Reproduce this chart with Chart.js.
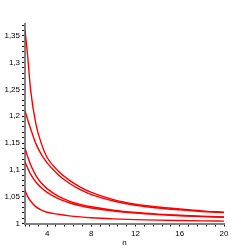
<!DOCTYPE html>
<html>
<head>
<meta charset="utf-8">
<script src="https://cdn.jsdelivr.net/npm/chart.js@4"></script>
<style>
html,body{margin:0;padding:0;background:#fff;}
#wrap{width:250px;height:250px;position:relative;}
</style>
</head>
<body>
<div id="wrap"><canvas id="c" width="250" height="250"></canvas></div>
<script>
const nValues = [2, 2.25, 2.5, 3, 3.5, 4, 5, 6, 7, 8, 10, 12, 14, 16, 18, 20];
const curveA  = [1.36, 1.31, 1.25, 1.184, 1.148, 1.123, 1.098, 1.081, 1.068, 1.058, 1.0445, 1.036, 1.0307, 1.027, 1.0236, 1.021];
const curveB  = [1.21, 1.193, 1.177, 1.148, 1.128, 1.113, 1.091, 1.075, 1.063, 1.054, 1.042, 1.034, 1.029, 1.0255, 1.0225, 1.0202];
const curveC1 = [1.14, 1.124, 1.11, 1.089, 1.075, 1.065, 1.051, 1.0418, 1.0357, 1.0312, 1.0247, 1.0204, 1.0175, 1.0153, 1.0136, 1.0122];
const curveC2 = [1.115, 1.103, 1.092, 1.077, 1.066, 1.058, 1.0465, 1.0387, 1.0332, 1.029, 1.0232, 1.0193, 1.0166, 1.0145, 1.0129, 1.0116];
const curveD  = [1.062, 1.05, 1.042, 1.031, 1.025, 1.021, 1.0172, 1.0143, 1.0123, 1.0108, 1.0087, 1.0072, 1.0062, 1.0055, 1.0049, 1.0044];

const xTicks = [2, 2.4, 3.2, 4, 4.8, 5.6, 6.4, 7.2, 8, 8.8, 9.6, 10.4, 11.2, 12, 12.8, 13.6, 14.4, 15.2, 16, 16.8, 17.6, 18.4, 19.2, 20];
const xLabels = [4, 8, 12, 16, 20];
const yTicks = [];
for (let i = 0; i <= 37; i++) yTicks.push(+(1 + i * 0.01).toFixed(2));
const yLabels = [1, 1.05, 1.1, 1.15, 1.2, 1.25, 1.3, 1.35];

const series = [curveA, curveB, curveC1, curveC2, curveD];
const datasets = series.map(s => ({
  data: nValues.map((n, i) => ({x: n, y: s[i]})),
  borderColor: '#ff0000',
  borderWidth: 1.4,
  pointRadius: 0,
  fill: false,
  cubicInterpolationMode: 'monotone'
}));

const fontLab = {family: 'Liberation Sans', size: 8};

new Chart(document.getElementById('c'), {
  type: 'line',
  data: {datasets},
  options: {
    responsive: false,
    animation: false,
    events: [],
    layout: {padding: {left: 0, right: 26, top: 24, bottom: 0}},
    plugins: {legend: {display: false}, tooltip: {enabled: false}},
    scales: {
      x: {
        type: 'linear', min: 2, max: 20,
        afterBuildTicks: ax => { ax.ticks = xTicks.map(v => ({value: v})); },
        afterFit: sc => { sc.height = 26.5; },
        ticks: {
          autoSkip: false, maxRotation: 0, padding: 2, color: '#000', font: fontLab,
          callback: v => xLabels.some(l => Math.abs(l - v) < 1e-6) ? String(v) : ''
        },
        grid: {drawOnChartArea: false, drawTicks: true, tickLength: 3, color: '#000', lineWidth: 1},
        border: {display: true, color: '#808080', width: 2},
        title: {display: true, text: 'n', color: '#000', font: fontLab, padding: {top: 0, bottom: 2}}
      },
      y: {
        type: 'linear', min: 1, max: 1.372,
        afterBuildTicks: ax => { ax.ticks = yTicks.map(v => ({value: v})); },
        afterFit: sc => { sc.width = 25; },
        ticks: {
          autoSkip: false, padding: 2, color: '#000', font: fontLab,
          callback: v => yLabels.some(l => Math.abs(l - v) < 1e-6) ? String(+v.toFixed(2)).replace('.', ',') : ''
        },
        grid: {drawOnChartArea: false, drawTicks: true, tickLength: 3, color: '#000', lineWidth: 1},
        border: {display: true, color: '#808080', width: 2}
      }
    }
  }
});
</script>
</body>
</html>
